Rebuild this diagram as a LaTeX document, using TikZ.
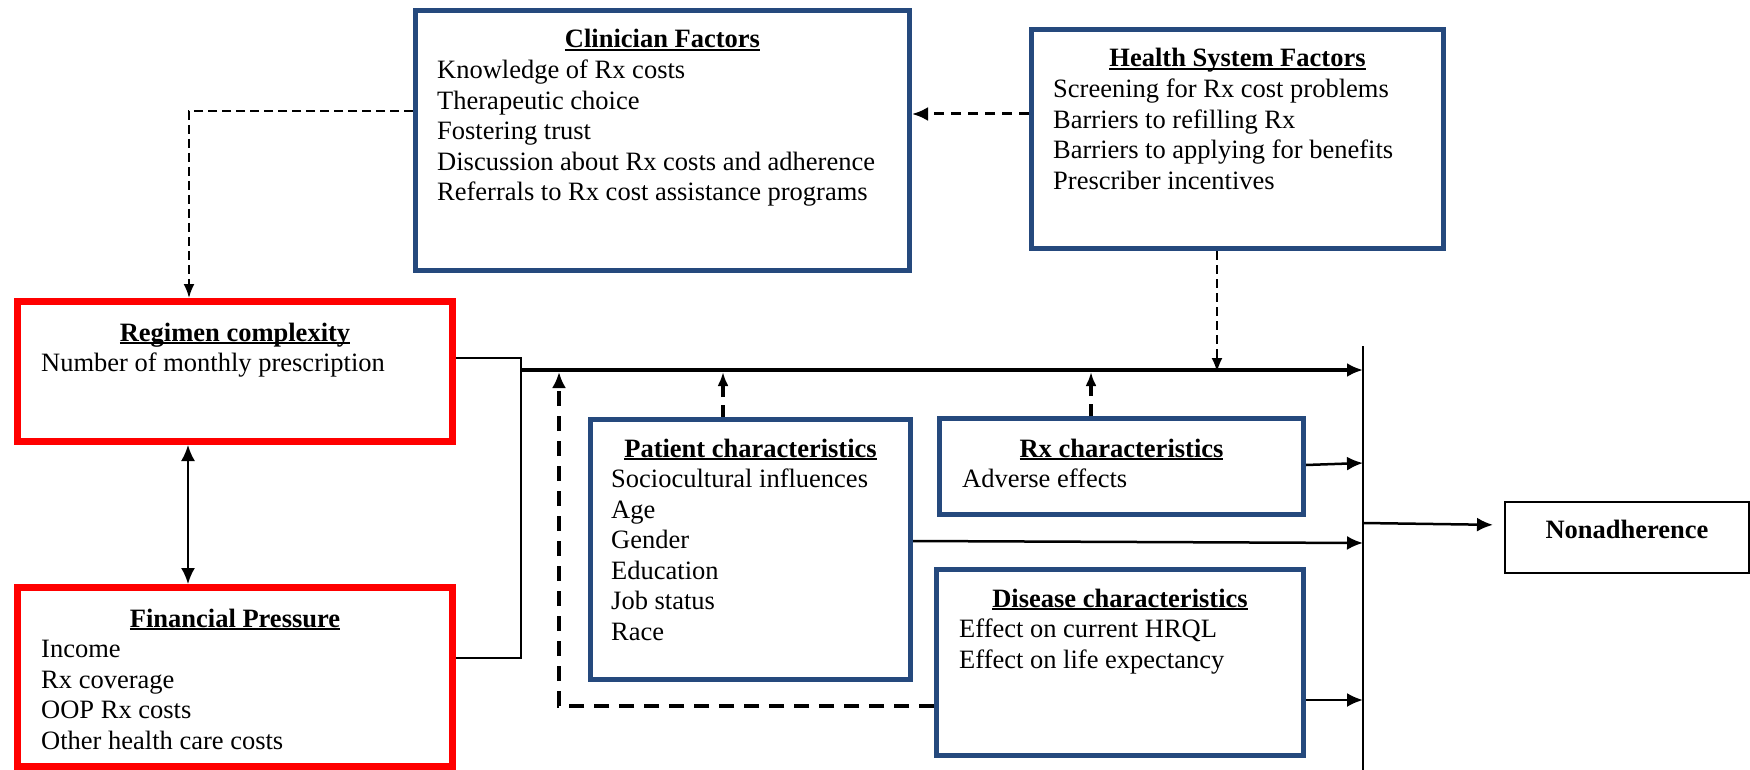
\documentclass[tikz,border=0pt]{standalone}
\usepackage{fontspec}
\setmainfont{Liberation Serif}
\usetikzlibrary{arrows.meta,positioning}
\definecolor{factorblue}{RGB}{37,73,125}
\newcommand{\ttlrule}[1]{\setbox0\hbox{#1}\rlap{\rule[-3pt]{\wd0}{1.8pt}}\box0}

\tikzset{
  factor/.style={draw=factorblue, line width=5pt, rectangle, inner sep=0pt},
  pressure/.style={draw=red, line width=7pt, rectangle, inner sep=0pt},
  outcome/.style={draw=black, line width=2pt, rectangle, inner sep=0pt},
  heading/.style={anchor=base, inner sep=0pt, font=\fontsize{26.5}{30.5}\selectfont\bfseries},
  itemlist/.style={anchor=north west, inner sep=0pt, align=left, font=\fontsize{26.5}{30.5}\selectfont},
  link/.style={line width=1.8pt},
  flow/.style={line width=2.5pt},
  mainflow/.style={line width=3.5pt},
  thindash/.style={line width=2pt, dash pattern=on 9pt off 5pt},
  middash/.style={line width=3pt, dash pattern=on 10pt off 7pt},
  thickdash/.style={line width=3.5pt, dash pattern=on 12pt off 8pt},
  loopdash/.style={line width=4pt, dash pattern=on 15pt off 10pt},
  small tip/.style={-{Latex[length=14pt,width=11pt]}}
}

\begin{document}
\begin{tikzpicture}[x=1pt, y=-1pt, >={Latex[length=16pt,width=14pt]}]
\useasboundingbox (0,0) rectangle (1750,770);

\node[factor, minimum width=494pt, minimum height=260pt] (clin) at (662.5,140.5) {};
\node[heading] (clinT) at ([yshift=-40pt]clin.north) {\ttlrule{Clinician Factors}};
\node[itemlist] (clinL) at ([xshift=24pt,yshift=-49pt]clin.north west) {\strut Knowledge of Rx costs\\Therapeutic choice\\Fostering trust\\Discussion about Rx costs and adherence\\Referrals to Rx cost assistance programs};

\node[factor, minimum width=412pt, minimum height=219pt] (hsys) at (1237.5,139) {};
\node[heading] (hsysT) at ([yshift=-40pt]hsys.north) {\ttlrule{Health System Factors}};
\node[itemlist] (hsysL) at ([xshift=24pt,yshift=-49pt]hsys.north west) {\strut Screening for Rx cost problems\\Barriers to refilling Rx\\Barriers to applying for benefits\\Prescriber incentives};

\node[pressure, minimum width=435pt, minimum height=140pt] (regi) at (235,371.5) {};
\node[heading] (regiT) at ([yshift=-43pt]regi.north) {\ttlrule{Regimen complexity}};
\node[itemlist] (regiL) at ([xshift=27pt,yshift=-52pt]regi.north west) {\strut Number of monthly prescription};

\node[pressure, minimum width=435pt, minimum height=179pt] (fina) at (235,677) {};
\node[heading] (finaT) at ([yshift=-43pt]fina.north) {\ttlrule{Financial Pressure}};
\node[itemlist] (finaL) at ([xshift=27pt,yshift=-52pt]fina.north west) {\strut Income\\Rx coverage\\OOP Rx costs\\Other health care costs};

\node[factor, minimum width=320pt, minimum height=260pt] (pati) at (750.5,549.5) {};
\node[heading] (patiT) at ([yshift=-40pt]pati.north) {\ttlrule{Patient characteristics}};
\node[itemlist] (patiL) at ([xshift=23pt,yshift=-49pt]pati.north west) {\strut Sociocultural influences\\Age\\Gender\\Education\\Job status\\Race};

\node[factor, minimum width=364pt, minimum height=96pt] (rxch) at (1121.5,466.5) {};
\node[heading] (rxchT) at ([yshift=-41pt]rxch.north) {\ttlrule{Rx characteristics}};
\node[itemlist] (rxchL) at ([xshift=25pt,yshift=-50pt]rxch.north west) {\strut Adverse effects};

\node[factor, minimum width=367pt, minimum height=186pt] (dise) at (1120,662.5) {};
\node[heading] (diseT) at ([yshift=-40pt]dise.north) {\ttlrule{Disease characteristics}};
\node[itemlist] (diseL) at ([xshift=25pt,yshift=-49pt]dise.north west) {\strut Effect on current HRQL\\Effect on life expectancy};

\node[outcome, minimum width=244pt, minimum height=71pt] (nona) at (1627,537.5) {};
\node[heading] (nonaT) at ([yshift=-37pt]nona.north) {Nonadherence};

\coordinate (mainL) at (521,370);
\coordinate (bartop) at (1363,346);
\coordinate (barbot) at (1363,770);

\draw[thindash,small tip] (clin.west |- 0,111) -| (regi.north -| 189,0);
\draw[middash,->] (hsys.west |- 0,114) -- (clin.east |- 0,114);
\draw[thindash,small tip] (hsys.south -| 1217,0) -- ([yshift=-2pt]mainL -| 1217,0);
\draw[line width=2pt,<->] (regi.south -| 188,0) -- (fina.north -| 188,0);
\draw[link] (regi.east |- 0,358) -| (mainL |- 0,658) -- (fina.east |- 0,658);
\draw[mainflow,->] (mainL) -- (bartop |- mainL);
\draw[thickdash,small tip] (pati.north -| 723,0) -- ([yshift=-2pt]mainL -| 723,0);
\draw[thickdash,small tip] (rxch.north -| 1091,0) -- ([yshift=-2pt]mainL -| 1091,0);
\draw[loopdash,->] (dise.west |- 0,706) -| ([yshift=-2pt]mainL -| 559,0);
\draw[flow] (bartop) -- (barbot);
\draw[flow,->] (rxch.east |- 0,465) -- (bartop |- 0,463);
\draw[flow,->] (pati.east |- 0,541) -- (bartop |- 0,543);
\draw[flow,->] (dise.east |- 0,700) -- (bartop |- 0,700);
\draw[flow,->,shorten >=11pt] (bartop |- 0,523) -- (nona.west |- 0,525);
\end{tikzpicture}
\end{document}
